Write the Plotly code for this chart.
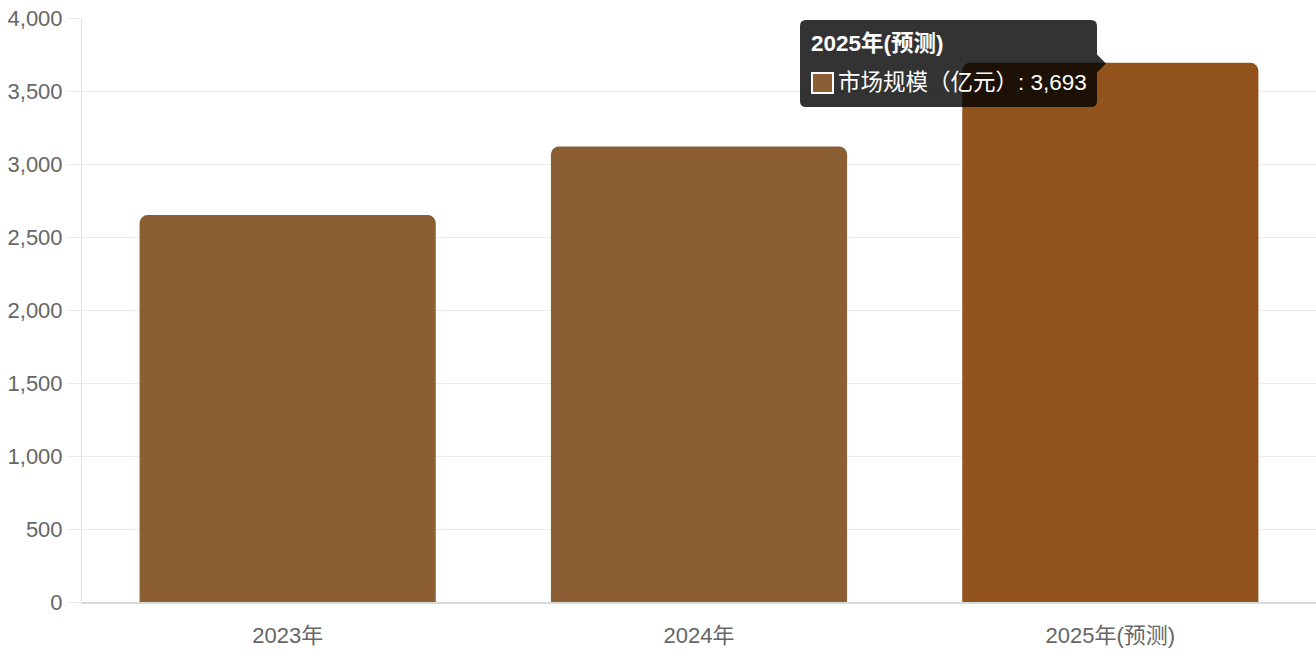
import plotly.graph_objects as go

# ---- data ----
categories = ["2023年", "2024年", "2025年(预测)"]
values = [2650, 3120, 3693]
series_name = "市场规模（亿元）"
y_ticks = [0, 500, 1000, 1500, 2000, 2500, 3000, 3500, 4000]
hover_index = 2

# ---- style ----
bar_color = "#8B5E34"
bar_hover_color = "#92531D"
colors = [bar_hover_color if i == hover_index else bar_color for i in range(len(categories))]
FONT = "Liberation Sans, Arial, Noto Sans CJK SC, sans-serif"

W, H = 1316, 656
L, R, T, B = 82, 1316, 18, 602


def px(x):
    return (x - L) / (R - L)


def py(y):
    return (B - y) / (B - T)


fig = go.Figure()
fig.add_trace(go.Bar(
    x=categories, y=values, marker=dict(color=colors, line=dict(width=0)),
    name=series_name, hoverinfo="skip",
))

fig.update_layout(
    width=W, height=H,
    margin=dict(l=L, r=W - R, t=T, b=H - B),
    paper_bgcolor="white", plot_bgcolor="white",
    bargap=0.28, barcornerradius=8,
    showlegend=False, hovermode=False,
    font=dict(family=FONT, size=22, color="#666"),
)
fig.update_yaxes(
    range=[0, 4000], tickvals=y_ticks, tickformat=",",
    showgrid=True, gridcolor="#ececec", gridwidth=1,
    zeroline=False, showline=True, linecolor="#e0e0e0", linewidth=1,
    ticks="outside", ticklen=14, tickcolor="#ececec",
    ticklabelstandoff=0,
    tickfont=dict(size=22, color="#666"),
)
fig.update_xaxes(
    showgrid=False, showline=True, linecolor="#d9d9d9", linewidth=1.5,
    ticks="", ticklabelstandoff=13,
    tickfont=dict(size=22, color="#666"),
)

# ---- tooltip ----
x0, x1, y0, y1, r = 800, 1097, 20, 107, 6
cy, c = 63.5, 9


def P(x, y):
    return f"{px(x):.6f},{py(y):.6f}"


path = (
    f"M {P(x0 + r, y0)} L {P(x1 - r, y0)} Q {P(x1, y0)} {P(x1, y0 + r)} "
    f"L {P(x1, cy - c)} L {P(x1 + c, cy)} L {P(x1, cy + c)} "
    f"L {P(x1, y1 - r)} Q {P(x1, y1)} {P(x1 - r, y1)} "
    f"L {P(x0 + r, y1)} Q {P(x0, y1)} {P(x0, y1 - r)} "
    f"L {P(x0, y0 + r)} Q {P(x0, y0)} {P(x0 + r, y0)} Z"
)
fig.add_shape(type="path", path=path, xref="paper", yref="paper",
              fillcolor="rgba(0,0,0,0.8)", line=dict(width=0), layer="above")
fig.add_shape(type="rect", xref="paper", yref="paper",
              x0=px(812), x1=px(833), y0=py(93), y1=py(73),
              fillcolor=bar_color, line=dict(color="white", width=2), layer="above")
fig.add_annotation(xref="paper", yref="paper", x=px(809), y=py(43),
                   xanchor="left", yanchor="middle", showarrow=False,
                   text=f"<b>{categories[hover_index]}</b>",
                   font=dict(family=FONT, size=22.5, color="white"))
fig.add_annotation(xref="paper", yref="paper", x=px(836), y=py(82),
                   xanchor="left", yanchor="middle", showarrow=False,
                   text=f"{series_name}: {values[hover_index]:,}",
                   font=dict(family=FONT, size=22.5, color="white"))

fig.write_html(
    "out.html",
    config={"displayModeBar": False},
    post_script="document.body.style.margin='0';document.body.style.overflow='hidden';",
)
